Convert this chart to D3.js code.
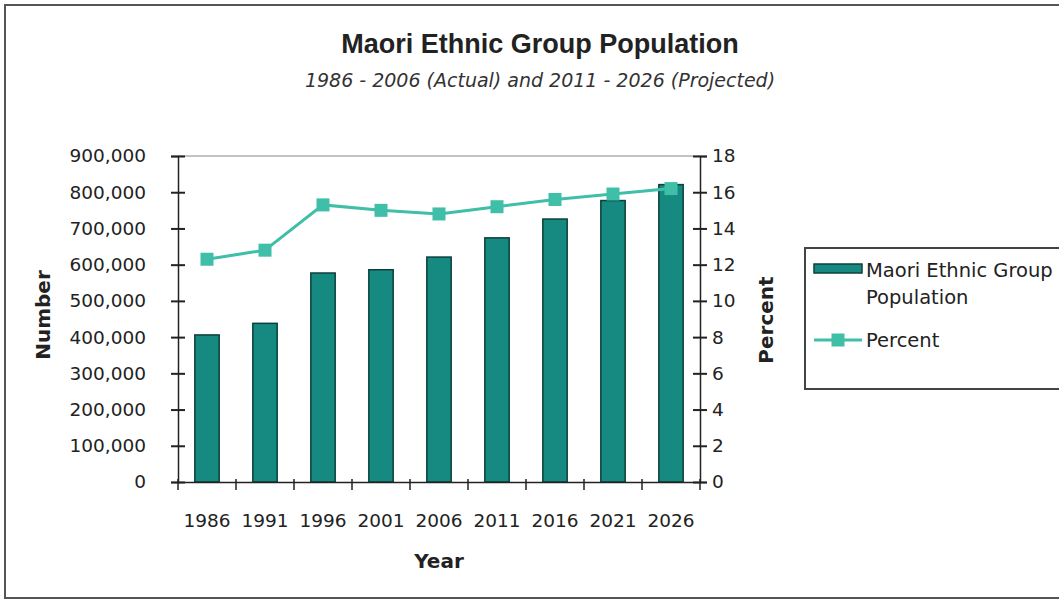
<!DOCTYPE html>
<html lang="en">
<head>
<meta charset="utf-8" />
<title>Maori Ethnic Group Population</title>
<script src="https://cdn.jsdelivr.net/npm/d3@7"></script>
<style>
    body { margin: 0; background: #fff; }
    text { font-family: "DejaVu Sans", Verdana, sans-serif; fill: #222; }
</style>
</head>
<body>
<div id="chart"></div>
<script>

    // data
    let years = ['1986', '1991', '1996', '2001', '2006', '2011', '2016', '2021', '2026'];
    let population = [406000, 438000, 577000, 586000, 621000, 674000, 726000, 777000, 821000];
    let percent = [12.3, 12.8, 15.3, 15.0, 14.8, 15.2, 15.6, 15.9, 16.2];
    let leftTicks = [0, 100000, 200000, 300000, 400000, 500000, 600000, 700000, 800000, 900000];
    let rightTicks = [0, 2, 4, 6, 8, 10, 12, 14, 16, 18];

    let W = 1059, H = 601;
    let margin = { top: 156, left: 178, right: 359, bottom: 119 };
    let width = W - margin.left - margin.right,
        height = H - margin.top - margin.bottom;

    let barColor = '#168a80', barEdge = '#0c403c', lineColor = '#3fbea8';

    let svg = d3.select('#chart')
        .append('svg')
        .attr('width', W)
        .attr('height', H);

    // outer frame
    svg.append('rect')
        .attr('x', 5).attr('y', 5)
        .attr('width', W + 20).attr('height', 593)
        .attr('fill', 'none')
        .attr('stroke', '#555')
        .attr('stroke-width', 2);

    svg.append('text')
        .attr('x', 540).attr('y', 53)
        .attr('text-anchor', 'middle')
        .style('font-family', '"Liberation Sans", Arial, sans-serif')
        .style('font-size', '27px')
        .style('font-weight', 'bold')
        .text('Maori Ethnic Group Population');

    svg.append('text')
        .attr('x', 540).attr('y', 87)
        .attr('text-anchor', 'middle')
        .style('font-size', '19px')
        .style('font-style', 'italic')
        .style('fill', '#333')
        .text('1986 - 2006 (Actual) and 2011 - 2026 (Projected)');

    let x = d3.scaleBand()
        .domain(years)
        .range([0, width]);

    let y = d3.scaleLinear()
        .domain([0, 900000])
        .range([height, 0]);

    let y2 = d3.scaleLinear()
        .domain([0, 18])
        .range([height, 0]);

    let g = svg.append('g')
        .attr('transform', 'translate(' + margin.left + ',' + margin.top + ')');

    // top border of plot area
    g.append('line')
        .attr('x1', 0).attr('x2', width)
        .attr('y1', 0).attr('y2', 0)
        .attr('stroke', '#888')
        .attr('stroke-width', 1);

    // bars
    let bw = x.bandwidth() * 0.42;
    g.selectAll('.bar')
        .data(population)
        .enter().append('rect')
        .attr('class', 'bar')
        .attr('x', (d, i) => x(years[i]) + (x.bandwidth() - bw) / 2)
        .attr('y', d => y(d))
        .attr('width', bw)
        .attr('height', d => height - y(d))
        .attr('fill', barColor)
        .attr('stroke', barEdge)
        .attr('stroke-width', 1.5);

    // left axis
    let yAxis = d3.axisLeft(y)
        .tickValues(leftTicks)
        .tickSize(7)
        .tickFormat(d3.format(','));
    let gy = g.append('g').call(yAxis);

    // right axis
    let yAxis2 = d3.axisRight(y2)
        .tickValues(rightTicks)
        .tickSize(7);
    let gy2 = g.append('g')
        .attr('transform', 'translate(' + width + ',0)')
        .call(yAxis2);

    // bottom axis: labels under bands, ticks at band edges
    let xAxis = d3.axisBottom(x).tickSize(0);
    let gx = g.append('g')
        .attr('transform', 'translate(0,' + height + ')')
        .call(xAxis);
    gx.selectAll('.tick text').attr('dy', '0').attr('y', 45);

    let edges = years.map(d => x(d)).concat([width]);
    gx.selectAll('.edge')
        .data(edges)
        .enter().append('line')
        .attr('class', 'edge')
        .attr('x1', d => d).attr('x2', d => d)
        .attr('y1', -3).attr('y2', 8)
        .attr('stroke', '#222')
        .attr('stroke-width', 1.5);

    [gy, gy2, gx].forEach(a => {
        a.select('.domain').attr('stroke', '#222').attr('stroke-width', 1.5);
        a.selectAll('.tick line').attr('stroke', '#222').attr('stroke-width', 2);
        a.selectAll('.tick text')
            .style('font-size', '18.5px')
            .style('font-family', '"DejaVu Sans", Verdana, sans-serif')
            .attr('fill', '#333');
    });
    // cross-style ticks on the value axes
    gy.selectAll('.tick line').attr('x1', 7);
    gy.selectAll('.tick text').attr('x', -32);
    gy2.selectAll('.tick line').attr('x1', -7);
    gy2.selectAll('.tick text').attr('x', 12);

    // percent line
    let line = d3.line()
        .x((d, i) => x(years[i]) + x.bandwidth() / 2)
        .y(d => y2(d));

    g.append('path')
        .datum(percent)
        .attr('d', line)
        .attr('fill', 'none')
        .attr('stroke', lineColor)
        .attr('stroke-width', 3);

    let ms = 13;
    g.selectAll('.marker')
        .data(percent)
        .enter().append('rect')
        .attr('class', 'marker')
        .attr('x', (d, i) => x(years[i]) + x.bandwidth() / 2 - ms / 2)
        .attr('y', d => y2(d) - ms / 2)
        .attr('width', ms)
        .attr('height', ms)
        .attr('fill', lineColor);

    // axis titles
    svg.append('text')
        .attr('x', 439).attr('y', 568)
        .attr('text-anchor', 'middle')
        .style('font-size', '20px')
        .style('font-weight', 'bold')
        .text('Year');

    svg.append('text')
        .attr('transform', 'translate(50,315) rotate(-90)')
        .attr('text-anchor', 'middle')
        .style('font-size', '20px')
        .style('font-weight', 'bold')
        .text('Number');

    svg.append('text')
        .attr('transform', 'translate(773,320) rotate(-90)')
        .attr('text-anchor', 'middle')
        .style('font-size', '20px')
        .style('font-weight', 'bold')
        .text('Percent');

    // legend
    let lg = svg.append('g').attr('transform', 'translate(805,248)');
    lg.append('rect')
        .attr('width', 280).attr('height', 141)
        .attr('fill', '#fff')
        .attr('stroke', '#444')
        .attr('stroke-width', 2);
    lg.append('rect')
        .attr('x', 9).attr('y', 16)
        .attr('width', 48).attr('height', 9)
        .attr('fill', barColor)
        .attr('stroke', barEdge)
        .attr('stroke-width', 1.5);
    lg.append('text')
        .attr('x', 61).attr('y', 29)
        .style('font-size', '19.5px')
        .attr('fill', '#333')
        .text('Maori Ethnic Group');
    lg.append('text')
        .attr('x', 61).attr('y', 56)
        .style('font-size', '19.5px')
        .attr('fill', '#333')
        .text('Population');
    lg.append('line')
        .attr('x1', 9).attr('x2', 57)
        .attr('y1', 92).attr('y2', 92)
        .attr('stroke', lineColor)
        .attr('stroke-width', 3);
    lg.append('rect')
        .attr('x', 33 - ms / 2).attr('y', 92 - ms / 2)
        .attr('width', ms).attr('height', ms)
        .attr('fill', lineColor);
    lg.append('text')
        .attr('x', 61).attr('y', 99)
        .style('font-size', '19.5px')
        .attr('fill', '#333')
        .text('Percent');

</script>
</body>
</html>
